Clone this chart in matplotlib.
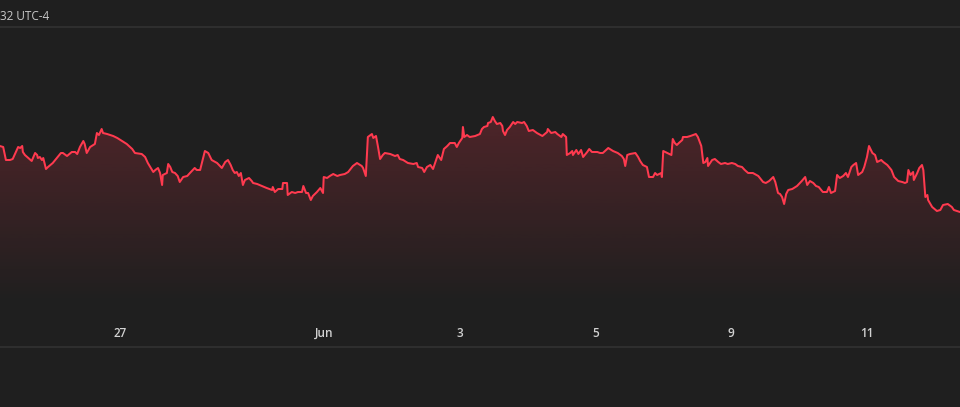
import numpy as np
import matplotlib
matplotlib.use("Agg")
import matplotlib.pyplot as plt
from matplotlib.patches import Polygon
from matplotlib.colors import to_rgb

# ---- data (x: trading-day position, 0 = May 27; y: price) ----
day_pos = [
    -1.77, -1.72, -1.68, -1.62, -1.58, -1.50, -1.47, -1.44, -1.43, -1.40,
    -1.35, -1.30, -1.25, -1.22, -1.21, -1.18, -1.15, -1.13, -1.09, -1.06,
    -0.99, -0.87, -0.84, -0.78, -0.71, -0.66, -0.63, -0.59, -0.54, -0.52,
    -0.49, -0.44, -0.37, -0.34, -0.31, -0.27, -0.25, -0.19, -0.10, -0.04,
    0.03, 0.10, 0.18, 0.22, 0.32, 0.37, 0.41, 0.49, 0.52, 0.56,
    0.59, 0.62, 0.63, 0.69, 0.71, 0.74, 0.77, 0.81, 0.85, 0.88,
    0.93, 0.99, 1.03, 1.10, 1.13, 1.18, 1.25, 1.30, 1.35, 1.43,
    1.50, 1.55, 1.59, 1.63, 1.66, 1.69, 1.72, 1.75, 1.78, 1.81,
    1.84, 1.90, 1.94, 1.96, 2.02, 2.09, 2.16, 2.24, 2.25, 2.28,
    2.33, 2.39, 2.40, 2.46, 2.47, 2.53, 2.58, 2.62, 2.68, 2.70,
    2.74, 2.77, 2.81, 2.84, 2.90, 2.95, 2.99, 3.00, 3.05, 3.09,
    3.14, 3.20, 3.24, 3.31, 3.36, 3.43, 3.49, 3.56, 3.58, 3.62,
    3.65, 3.71, 3.73, 3.77, 3.80, 3.83, 3.87, 3.90, 3.98, 4.05,
    4.09, 4.12, 4.17, 4.24, 4.32, 4.37, 4.39, 4.45, 4.48, 4.52,
    4.57, 4.61, 4.67, 4.68, 4.73, 4.77, 4.82, 4.86, 4.93, 4.96,
    4.99, 5.04, 5.05, 5.07, 5.11, 5.15, 5.23, 5.30, 5.33, 5.36,
    5.41, 5.42, 5.46, 5.49, 5.52, 5.55, 5.60, 5.63, 5.64, 5.67,
    5.70, 5.74, 5.79, 5.82, 5.85, 5.92, 5.95, 5.99, 6.02, 6.08,
    6.14, 6.22, 6.29, 6.30, 6.35, 6.41, 6.44, 6.50, 6.52, 6.57,
    6.58, 6.63, 6.66, 6.67, 6.72, 6.75, 6.79, 6.82, 6.88, 6.91,
    6.95, 7.03, 7.07, 7.11, 7.19, 7.26, 7.33, 7.39, 7.42, 7.44,
    7.47, 7.51, 7.59, 7.63, 7.66, 7.70, 7.76, 7.79, 7.85, 7.88,
    7.91, 7.97, 7.98, 8.00, 8.06, 8.12, 8.14, 8.17, 8.20, 8.23,
    8.28, 8.29, 8.35, 8.40, 8.44, 8.48, 8.51, 8.56, 8.59, 8.62,
    8.65, 8.66, 8.72, 8.76, 8.81, 8.85, 8.91, 8.95, 9.01, 9.06,
    9.10, 9.16, 9.20, 9.25, 9.32, 9.40, 9.47, 9.51, 9.56, 9.62,
    9.65, 9.69, 9.72, 9.75, 9.78, 9.81, 9.84, 9.90, 9.97, 10.04,
    10.09, 10.12, 10.16, 10.21, 10.25, 10.29, 10.35, 10.41, 10.44, 10.47,
    10.53, 10.56, 10.60, 10.65, 10.69, 10.72, 10.77, 10.80, 10.84, 10.87,
    10.93, 10.96, 11.00, 11.03, 11.08, 11.12, 11.15, 11.21, 11.24, 11.30,
    11.36, 11.40, 11.46, 11.52, 11.56, 11.59, 11.61, 11.64, 11.68, 11.69,
    11.74, 11.77, 11.81, 11.83, 11.86, 11.89, 11.90, 11.96, 12.03, 12.08,
    12.12, 12.19, 12.25, 12.28, 12.37,
]
price = [
    25.4, 25.3, 24.0, 24.0, 24.1, 25.3, 25.2, 25.4, 24.8, 24.5,
    24.2, 23.9, 24.7, 24.5, 24.2, 24.3, 24.0, 24.2, 23.1, 23.3,
    23.7, 24.7, 24.7, 24.4, 24.8, 24.8, 24.6, 25.3, 25.9, 25.6,
    24.7, 25.3, 25.6, 26.7, 26.5, 27.1, 26.7, 26.6, 26.4, 26.2,
    25.9, 25.6, 25.1, 24.7, 24.6, 24.3, 23.7, 22.8, 23.0, 23.2,
    22.7, 21.5, 22.5, 22.7, 23.6, 23.3, 22.8, 22.7, 22.4, 21.8,
    22.3, 22.4, 22.7, 23.2, 23.0, 23.0, 24.9, 24.7, 24.0, 23.7,
    23.2, 23.8, 24.0, 23.5, 23.0, 22.7, 22.8, 22.4, 22.7, 21.5,
    22.0, 22.2, 21.9, 21.7, 21.6, 21.4, 21.2, 21.0, 21.3, 20.8,
    21.1, 21.1, 21.7, 21.7, 20.5, 20.8, 20.7, 20.8, 20.8, 21.4,
    20.7, 20.7, 20.0, 20.4, 20.8, 21.2, 20.7, 22.3, 22.2, 22.4,
    22.6, 22.4, 22.5, 22.6, 22.8, 23.4, 23.7, 23.4, 23.2, 22.4,
    26.3, 26.6, 26.2, 26.4, 25.3, 24.1, 24.5, 24.7, 24.6, 24.4,
    24.5, 24.1, 24.0, 23.7, 23.6, 23.7, 23.3, 23.2, 22.8, 23.3,
    23.5, 23.1, 24.3, 24.5, 24.0, 25.1, 25.4, 25.7, 25.7, 25.3,
    25.7, 26.2, 27.3, 26.3, 26.5, 26.3, 26.4, 26.6, 27.1, 27.3,
    27.4, 27.7, 27.8, 28.3, 27.9, 27.6, 27.7, 27.4, 26.9, 26.5,
    27.0, 27.3, 27.8, 27.6, 27.8, 27.7, 27.8, 27.4, 26.9, 27.0,
    26.7, 26.4, 26.8, 27.1, 26.7, 26.8, 26.6, 26.3, 26.6, 26.3,
    24.5, 24.7, 24.9, 24.5, 25.0, 24.6, 25.0, 24.3, 24.8, 25.1,
    24.8, 24.8, 24.7, 24.7, 25.2, 24.9, 24.7, 24.4, 24.1, 23.4,
    24.5, 24.6, 24.7, 24.3, 23.9, 23.5, 23.3, 22.3, 22.3, 22.7,
    22.5, 22.7, 22.3, 24.9, 24.7, 24.5, 26.1, 25.7, 25.5, 25.7,
    26.0, 26.3, 26.3, 26.4, 26.5, 26.6, 26.3, 25.4, 23.7, 23.8,
    24.2, 23.4, 24.0, 24.1, 23.8, 23.6, 23.7, 23.6, 23.7, 23.6,
    23.4, 23.3, 23.0, 22.7, 22.7, 22.4, 21.8, 21.7, 21.9, 22.3,
    21.8, 20.7, 20.6, 20.3, 19.6, 20.6, 21.0, 21.1, 21.4, 21.9,
    22.3, 21.5, 21.9, 21.7, 21.4, 21.3, 20.8, 20.8, 21.3, 20.7,
    20.9, 22.5, 22.2, 22.4, 22.7, 22.3, 23.3, 23.5, 23.7, 22.5,
    22.8, 23.3, 24.3, 25.4, 24.7, 24.5, 23.8, 24.0, 23.8, 23.5,
    23.0, 22.3, 21.9, 21.8, 21.7, 21.8, 23.0, 22.5, 22.8, 22.0,
    22.7, 23.2, 23.5, 23.0, 20.3, 20.5, 20.0, 19.3, 18.9, 19.0,
    19.5, 19.6, 19.3, 19.0, 18.8,
]
tick_pos = [0, 3, 5, 7, 9, 11]
tick_labels = ["27", "Jun", "3", "5", "9", "11"]
header_text = "32 UTC-4"

# ---- style ----
BG = "#1f1f1f"
LINE = "#ff3a4f"
GRID = "#2e2e2e"
TXT = "#d2d2d2"

W, H = 960, 407
fig = plt.figure(figsize=(W / 100, H / 100), dpi=100, facecolor=BG)
ax = fig.add_axes([0, (H - 347) / H, 1, (347 - 27) / H])
ax.set_facecolor(BG)

x = np.asarray(day_pos)
y = np.asarray(price)
xmin, xmax = -1.767, 12.37
ymin, ymax = 5.3, 37.3

# gradient fill under the line
verts = np.column_stack([np.r_[x[0], x, x[-1]], np.r_[ymin, y, ymin]])
poly = Polygon(verts, closed=True, facecolor="none", edgecolor="none")
ax.add_patch(poly)
grad = np.zeros((256, 1, 4))
grad[:, :, :3] = to_rgb(LINE)
grad[:, 0, 3] = np.linspace(0.21, 0.0, 256)
im = ax.imshow(grad, aspect="auto", origin="upper",
               extent=[xmin, xmax, 9.5, y.max()], zorder=1,
               interpolation="bilinear")
im.set_clip_path(poly)

ax.plot(x, y, color=LINE, lw=1.45, zorder=3, solid_joinstyle="round")

ax.set_xlim(xmin, xmax)
ax.set_ylim(ymin, ymax)

for s in ["left", "right"]:
    ax.spines[s].set_visible(False)
for s in ["top", "bottom"]:
    ax.spines[s].set_color(GRID)
    ax.spines[s].set_linewidth(1.5)

ax.set_yticks([])
ax.set_xticks(tick_pos)
ax.set_xticklabels(tick_labels, fontsize=8.5, color=TXT, family="Open Sans",
                   fontweight="semibold")
ax.tick_params(axis="x", length=0, pad=-14.5)

fig.text(0, 1 - 16 / H, header_text, ha="left", va="center", fontsize=8.5,
         color="#c8c8c8", family="Open Sans", fontweight="medium")

fig.savefig("out.png", dpi=100, facecolor=BG)
